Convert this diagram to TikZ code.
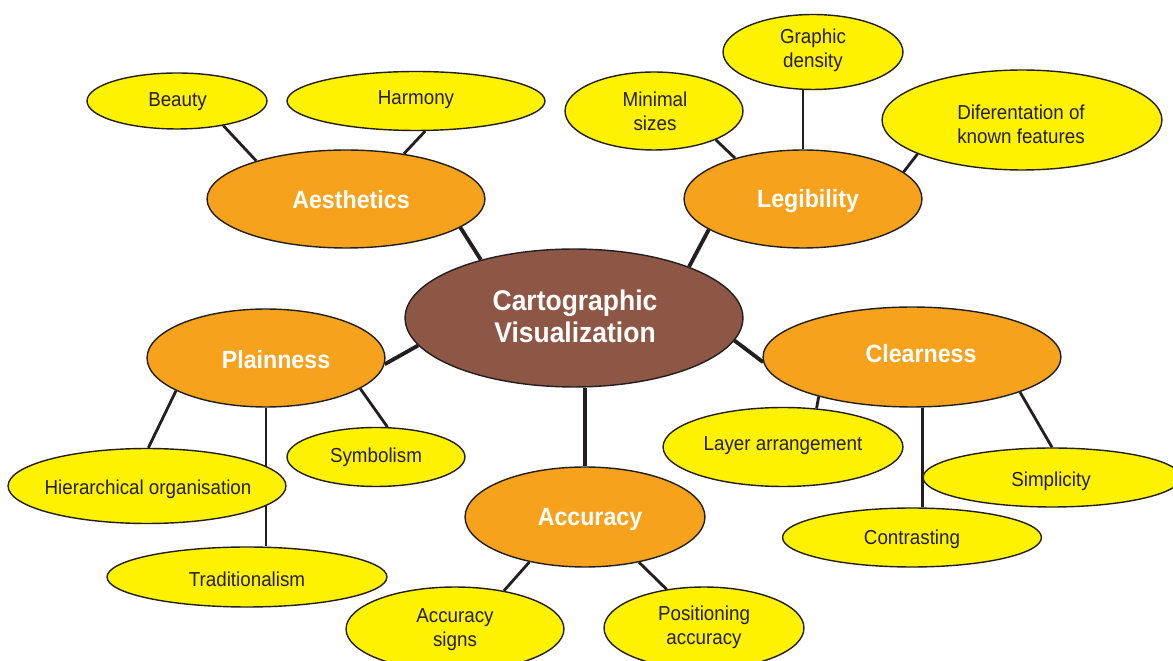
\documentclass[tikz,border=0pt]{standalone}
\usepackage{fontspec}
\setmainfont{Liberation Sans}[FakeStretch=0.93]
\usetikzlibrary{shapes.geometric,backgrounds}
\definecolor{yel}{HTML}{FFF200}
\definecolor{org}{HTML}{F7A21C}
\definecolor{brn}{HTML}{8E5645}
\definecolor{edge}{HTML}{231F20}
\begin{document}
\begin{tikzpicture}[x=0.02cm,y=-0.02cm,
  ell/.style 2 args={ellipse, draw=edge, line width=0.8pt, inner sep=0pt,
    minimum width=#1*0.04cm, minimum height=#2*0.04cm},
  leaf/.style 2 args={ell={#1}{#2}, fill=yel},
  mid/.style 2 args={ell={#1}{#2}, fill=org},
  core/.style 2 args={ell={#1}{#2}, fill=brn},
  ytxt/.style={font=\fontsize{11.5}{13.6}\selectfont, align=center, text=edge, inner sep=0pt, yshift=-0.04cm},
  otxt/.style={font=\bfseries\fontsize{14.2}{17}\selectfont, align=center, text=white, inner sep=0pt, yshift=-0.04cm},
  ctxt/.style={font=\bfseries\fontsize{16.2}{18.2}\selectfont, align=center, text=white, inner sep=0pt},
  trunk/.style={draw=edge, line width=2.2pt},
  branch/.style={draw=edge, line width=1.6pt}]
\useasboundingbox (0,0) rectangle (1173,661);
% ellipses
\node[leaf={90}{28}] (beauty) at (177,101) {};
\node[leaf={129}{29.5}] (harmony) at (416,101) {};
\node[mid={139}{49}] (aes) at (346,199) {};
\node[leaf={89}{39}] (minimal) at (654,111) {};
\node[leaf={90}{37.5}] (graphic) at (813,52) {};
\node[leaf={140}{50}] (difer) at (1022,120) {};
\node[mid={119}{49}] (leg) at (803,199) {};
\node[core={169}{69}] (cv) at (574,318) {};
\node[mid={119}{49}] (plain) at (266,358) {};
\node[mid={149}{50}] (clear) at (912,357) {};
\node[mid={120}{50}] (acc) at (585,517) {};
\node[leaf={89}{29.5}] (symb) at (376,457) {};
\node[leaf={139}{37.5}] (hier) at (147,486) {};
\node[leaf={140}{30}] (trad) at (247,577) {};
\node[leaf={120}{39.5}] (layer) at (783,447) {};
\node[leaf={129}{29.5}] (simp) at (1052,477.5) {};
\node[leaf={129.5}{29.5}] (contr) at (912,537.5) {};
\node[leaf={109}{42}] (accs) at (455,629) {};
\node[leaf={100}{41}] (pos) at (704,628) {};
% texts
\node[ytxt] (tbeauty) at (177.5,100) {Beauty};
\node[ytxt] (tharmony) at (416,98) {Harmony};
\node[otxt] (taes) at (351,198) {Aesthetics};
\node[ytxt] (tgraphic) at (813,48) {Graphic\\density};
\node[ytxt] (tminimal) at (655,109) {Minimal\\sizes};
\node[ytxt] (tdifer) at (1021,122) {Diferentation of\\known features};
\node[otxt] (tleg) at (808,199) {Legibility};
\node[ctxt] (tcv) at (575,316) {Cartographic\\Visualization};
\node[otxt] (tplain) at (276,358) {Plainness};
\node[otxt] (tclear) at (921,352) {Clearness};
\node[ytxt] (tsymb) at (376,455) {Symbolism};
\node[ytxt] (thier) at (148,487) {Hierarchical organisation};
\node[ytxt] (ttrad) at (247,577) {Traditionalism};
\node[ytxt] (tlayer) at (783,444) {Layer arrangement};
\node[ytxt] (tsimp) at (1051,479) {Simplicity};
\node[ytxt] (tcontr) at (912,537) {Contrasting};
\node[otxt] (tacc) at (590,518) {Accuracy};
\node[ytxt] (taccs) at (455,628) {Accuracy\\signs};
\node[ytxt] (tpos) at (704,625) {Positioning\\accuracy};
% connectors
\begin{scope}[on background layer]
\fill[white] (0,0) rectangle (1173,661);
\draw[trunk] (aes.-14.5) -- (cv.148.3);
\draw[trunk] (leg.198.3) -- (cv.24.1);
\draw[trunk] (plain.-3.9) -- (cv.190.1);
\draw[trunk] (clear.182) -- (cv.-8.9);
\draw[trunk] (cv.south -| acc.north) -- (acc.north);
\draw[branch] (beauty.-28.5) -- (aes.157.2);
\draw[branch] (harmony.-73.3) -- (aes.38.8);
\draw[branch] (minimal.-25.4) -- (leg.149.9);
\draw[branch] (leg.north) -- (leg.north |- graphic.south);
\draw[branch] (difer.198.3) -- (leg.15.3);
\draw[branch] (plain.200.7) -- (hier.88.5);
\draw[branch] (plain.south) -- (plain.south |- trad.north);
\draw[branch] (plain.-18.1) -- (symb.69.2);
\draw[branch] (acc.219.9) -- (accs.38.9);
\draw[branch] (acc.-40.4) -- (pos.134.2);
\draw[branch] (clear.203.8) -- (layer.49);
\draw[branch] (clear.-78.7) -- (clear.-78.7 |- contr.north);
\draw[branch] (clear.-18) -- (simp.90);
\end{scope}
\end{tikzpicture}
\end{document}
